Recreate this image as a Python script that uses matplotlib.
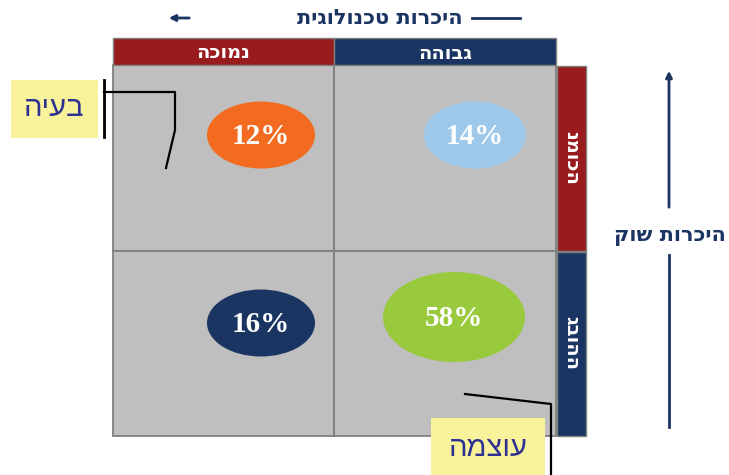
import matplotlib.pyplot as plt
from matplotlib.patches import Rectangle, Ellipse

W, H = 729, 475

# data
pcts = [12, 14, 16, 58]
pct_colors = ['#F26B21', '#9DC8EA', '#1B3563', '#99C93C']
col_labels = ['נמוכה', 'גבוהה']   # technology (left, right)
row_labels = ['נמוכה', 'גבוהה']   # market (top, bottom)
x_title = 'היכרות טכנולוגית'
y_title = 'היכרות שוק'
callouts = ['בעיה', 'עוצמה']

RED = '#981B1E'
BLUE = '#1B3563'


def rtl(s):
    # matplotlib has no bidi support, so reverse Hebrew text
    return s[::-1]


fig = plt.figure(figsize=(W / 100, H / 100), dpi=100)
ax = fig.add_axes([0, 0, 1, 1])
ax.set_xlim(0, W)
ax.set_ylim(H, 0)
ax.axis('off')

heb_bold = ['DejaVu Sans', 'Liberation Sans']
heb = ['Liberation Sans', 'DejaVu Sans']

# grid cells
gx = [113, 334, 556]
gy = [65, 251, 436]
for r in range(2):
    for c in range(2):
        ax.add_patch(Rectangle((gx[c], gy[r]), gx[c + 1] - gx[c], gy[r + 1] - gy[r],
                               facecolor='#BFBFBF', edgecolor='#7F7F7F', lw=1.3))

# top headers
for c, lab in enumerate(col_labels):
    col = RED if c == 0 else BLUE
    ax.add_patch(Rectangle((gx[c], 38), gx[c + 1] - gx[c], 27, facecolor=col,
                           edgecolor='#7F7F7F', lw=1))
    ax.text((gx[c] + gx[c + 1]) / 2, 53, rtl(lab), color='white', fontsize=14,
            fontweight='bold', ha='center', va='center', family=heb_bold)

# right headers (stacked vertical text reads top to bottom)
for r, lab in enumerate(row_labels):
    col = RED if r == 0 else BLUE
    ax.add_patch(Rectangle((557, gy[r] + 1), 29, gy[r + 1] - gy[r] - 1, facecolor=col,
                           edgecolor='#7F7F7F', lw=1))
    ax.text(571.5, (gy[r] + gy[r + 1]) / 2, lab, color='white', fontsize=14,
            fontweight='bold', ha='center', va='center', rotation=-90, family=heb_bold)

# axis titles with arrows
ax.text(380, 18, rtl(x_title), color=BLUE, fontsize=15, fontweight='bold',
        ha='center', va='center', family=heb_bold)
ax.plot([472, 520], [18, 18], color=BLUE, lw=2)
ax.annotate('', xy=(166, 18), xytext=(192, 18),
            arrowprops=dict(arrowstyle='-|>', color=BLUE, lw=2, mutation_scale=9))

ax.text(670, 236, rtl(y_title), color=BLUE, fontsize=15, fontweight='bold',
        ha='center', va='center', family=heb_bold)
ax.annotate('', xy=(669, 68), xytext=(669, 210),
            arrowprops=dict(arrowstyle='-|>', color=BLUE, lw=2, mutation_scale=9))
ax.plot([669, 669], [255, 427], color=BLUE, lw=2)

# ellipses
centers = [(261, 135), (475, 135), (261, 323), (454, 317)]
sizes = [(108, 67), (102, 67), (108, 67), (142, 90)]
for (cx, cy), (ew, eh), p, col in zip(centers, sizes, pcts, pct_colors):
    ax.add_patch(Ellipse((cx, cy), ew, eh, facecolor=col, edgecolor='none'))
    ax.text(cx, cy + 1, f'{p}%', color='white', fontsize=21, fontweight='bold',
            ha='center', va='center', family='Liberation Serif')

# callout: problem
ax.add_patch(Rectangle((11, 80), 87, 58, facecolor='#F8F29A', edgecolor='none'))
ax.text(54, 108, rtl(callouts[0]), color='#2E3192', fontsize=21, ha='center',
        va='center', family=heb)
ax.plot([104, 104], [80, 137], color='black', lw=2)
ax.plot([104, 175, 175, 166], [92, 92, 130, 168], color='black', lw=1.6)

# callout: strength
ax.add_patch(Rectangle((431, 418), 114, 60, facecolor='#F8F29A', edgecolor='none'))
ax.text(488, 448, rtl(callouts[1]), color='#2E3192', fontsize=21, ha='center',
        va='center', family=heb)
ax.plot([465, 551, 551], [394, 404, 475], color='black', lw=1.6)

fig.savefig('out.png', dpi=100)
